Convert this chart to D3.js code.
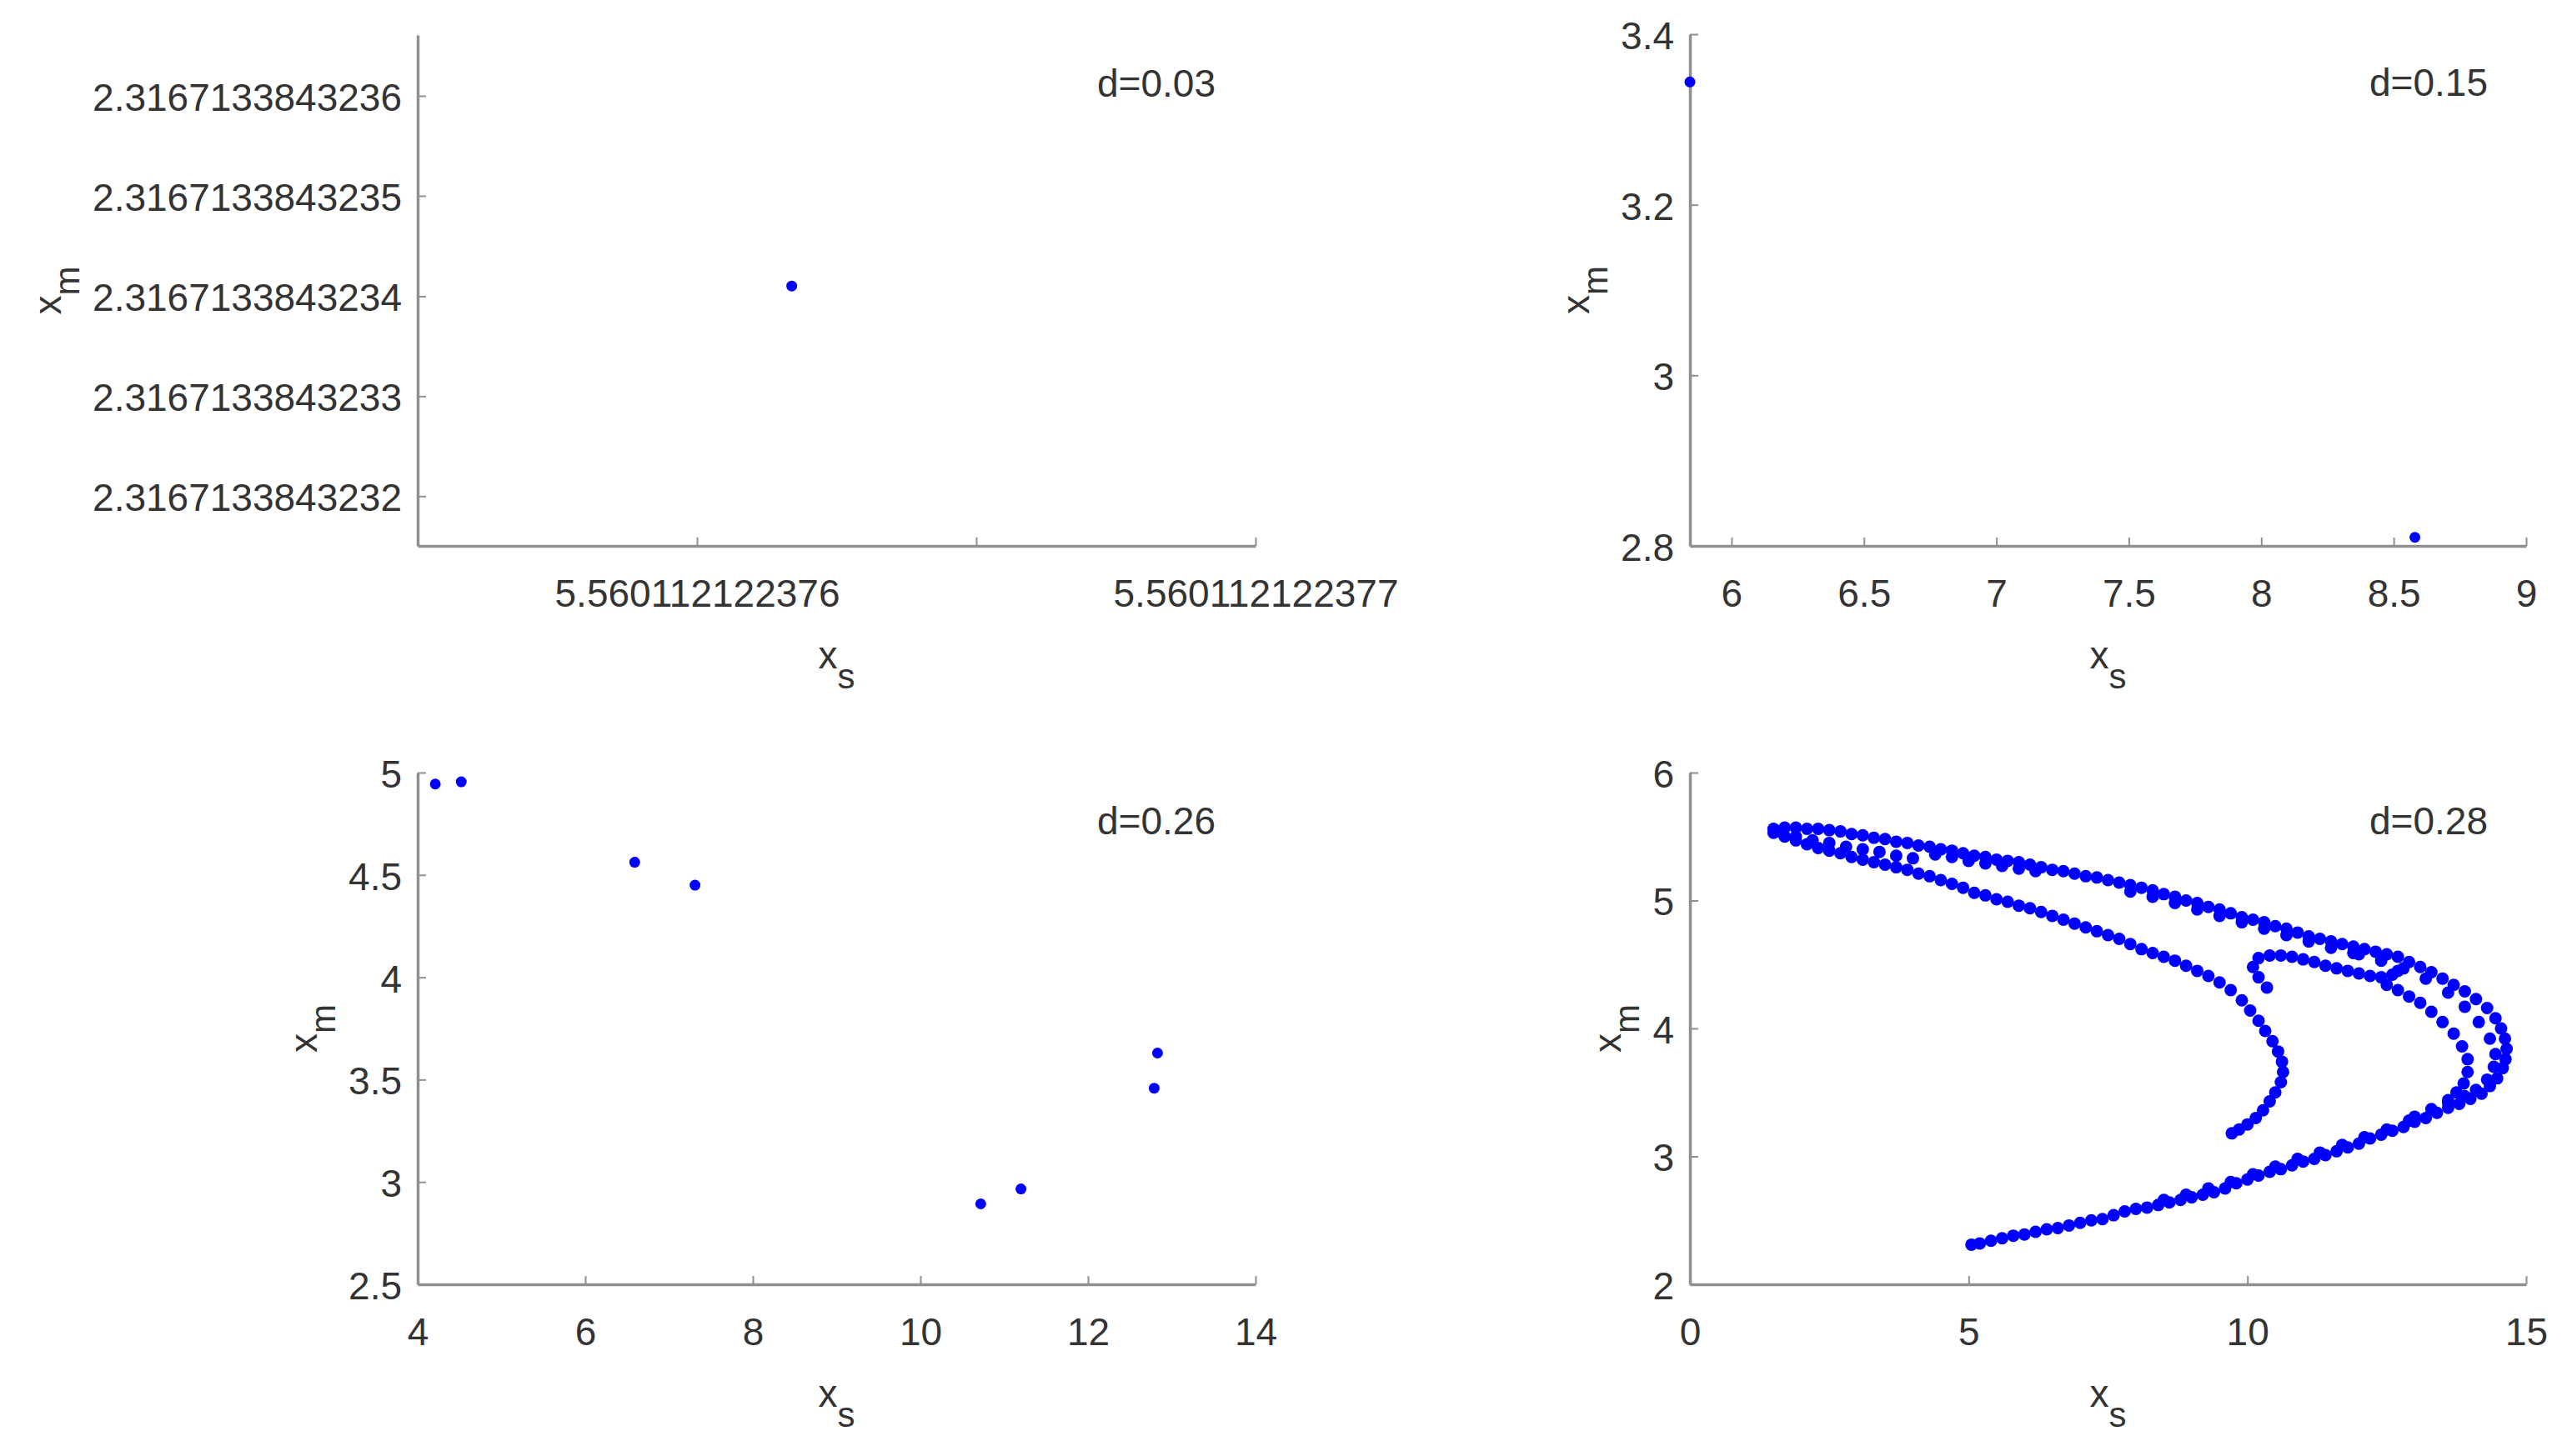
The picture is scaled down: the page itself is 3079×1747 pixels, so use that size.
<!DOCTYPE html>
<html lang="en">
<head>
  <meta charset="UTF-8">
  <title>x_s - x_m scatter, four d values</title>
  <script src="https://cdn.jsdelivr.net/npm/d3@7"></script>
  <style>
    body { margin: 0; background: #fff; }
    text { font-family: "Liberation Sans", Arial, sans-serif; fill: #333; }
  </style>
</head>
<body>
  <div id="box"></div>
  <script>
    // ---- data ----
    // d = 0.03 : one fixed point
    const p1Xs = [5.56011212237617]
    const p1Xm = [2.31671338432341]
    const p1XTicks = [5.560112122376, 5.5601121223765, 5.560112122377]
    const p1XTickLabels = ['5.560112122376', '', '5.560112122377']
    const p1YTicks = [2.3167133843232, 2.3167133843233, 2.3167133843234, 2.3167133843235, 2.3167133843236]
    const p1YTickLabels = ['2.3167133843232', '2.3167133843233', '2.3167133843234', '2.3167133843235', '2.3167133843236']

    // d = 0.15 : period 2
    const p2Xs = [5.843, 8.58]
    const p2Xm = [3.344, 2.81]
    const p2XTicks = [6, 6.5, 7, 7.5, 8, 8.5, 9]
    const p2YTicks = [2.8, 3, 3.2, 3.4]

    // d = 0.26 : period 8
    const p3Xs = [4.21, 4.52, 6.59, 7.31, 10.72, 11.2, 12.79, 12.83]
    const p3Xm = [4.944, 4.955, 4.562, 4.45, 2.893, 2.966, 3.458, 3.63]
    const p3XTicks = [4, 6, 8, 10, 12, 14]
    const p3YTicks = [2.5, 3, 3.5, 4, 4.5, 5]

    // d = 0.28 : chaotic attractor, points read along each strand [xs, xm]
    const p4Outer = [
      [1.5, 5.56], [1.7, 5.57], [1.9, 5.57], [2.1, 5.56], [2.3, 5.56], [2.5, 5.55], [2.7, 5.54], [2.9, 5.52],
      [3.1, 5.51], [3.3, 5.49], [3.5, 5.48], [3.7, 5.46], [3.9, 5.45], [4.1, 5.43], [4.3, 5.42], [4.5, 5.40],
      [4.7, 5.39], [4.9, 5.37], [5.1, 5.35], [5.3, 5.34], [5.5, 5.32], [5.7, 5.31], [5.9, 5.30], [6.1, 5.28],
      [6.3, 5.26], [6.5, 5.24], [6.7, 5.23], [6.9, 5.21], [7.1, 5.19], [7.3, 5.18], [7.5, 5.16], [7.7, 5.14],
      [7.9, 5.12], [8.1, 5.10], [8.3, 5.08], [8.5, 5.05], [8.7, 5.03], [8.9, 5.00], [9.1, 4.98], [9.3, 4.95],
      [9.5, 4.93], [9.7, 4.90], [9.9, 4.87], [10.1, 4.85], [10.3, 4.83], [10.5, 4.80], [10.7, 4.78], [10.9, 4.75],
      [11.1, 4.72], [11.3, 4.70], [11.5, 4.68], [11.7, 4.66], [11.9, 4.64], [12.1, 4.62], [12.3, 4.60], [12.5, 4.58],
      [12.7, 4.56], [12.9, 4.52], [13.1, 4.48], [13.3, 4.44], [13.5, 4.39], [13.7, 4.34], [13.9, 4.29], [14.1, 4.23],
      [14.3, 4.16], [14.45, 4.08], [14.55, 4.00], [14.62, 3.92], [14.65, 3.84], [14.63, 3.76], [14.58, 3.69], [14.48, 3.61],
      [14.35, 3.55], [14.2, 3.49], [14.0, 3.45], [13.8, 3.41], [13.6, 3.38], [13.4, 3.34], [13.2, 3.30], [13.0, 3.27],
      [12.8, 3.23], [12.6, 3.20], [12.4, 3.17], [12.2, 3.14], [12.0, 3.10], [11.8, 3.07], [11.6, 3.04], [11.4, 3.01],
      [11.2, 2.98], [11.0, 2.96], [10.8, 2.93], [10.6, 2.90], [10.4, 2.88], [10.2, 2.85], [10.0, 2.82], [9.8, 2.79],
      [9.6, 2.75], [9.4, 2.72], [9.2, 2.70], [9.0, 2.68], [8.8, 2.66], [8.6, 2.64], [8.4, 2.62], [8.2, 2.60],
      [8.0, 2.59], [7.8, 2.57], [7.6, 2.54], [7.4, 2.51], [7.2, 2.50], [7.0, 2.48], [6.8, 2.46], [6.6, 2.44],
      [6.4, 2.43], [6.2, 2.41], [6.0, 2.39], [5.8, 2.38], [5.6, 2.36], [5.4, 2.34], [5.2, 2.32], [5.05, 2.31]
    ]
    const p4OuterInner = [
      [1.6, 5.54], [1.9, 5.50], [2.2, 5.47], [2.5, 5.45], [2.8, 5.42], [3.1, 5.40], [3.4, 5.38], [3.7, 5.35], [4.0, 5.33],
      [4.4, 5.36], [4.7, 5.34], [5.0, 5.31], [5.3, 5.29], [5.6, 5.27], [5.9, 5.25], [6.2, 5.23],
      [7.9, 5.07], [8.3, 5.03], [8.7, 4.98], [9.1, 4.93], [9.5, 4.88], [9.9, 4.83], [10.3, 4.78], [10.7, 4.73],
      [11.1, 4.68], [11.5, 4.63], [11.9, 4.59], [12.0, 4.58], [12.4, 4.53], [12.8, 4.47], [13.2, 4.39], [13.6, 4.28],
      [13.9, 4.17], [14.15, 4.05], [14.35, 3.92], [14.45, 3.80], [14.42, 3.70], [14.3, 3.60], [14.1, 3.52], [13.9, 3.47],
      [13.6, 3.42], [13.3, 3.37], [13.0, 3.31], [12.9, 3.28], [12.5, 3.21], [12.1, 3.15], [11.7, 3.09], [11.3, 3.03],
      [10.9, 2.98], [10.5, 2.92], [10.1, 2.86], [9.7, 2.80], [9.3, 2.75], [8.9, 2.70], [8.5, 2.66]
    ]
    const p4Inner = [
      [1.5, 5.53], [1.7, 5.50], [1.9, 5.47], [2.1, 5.44], [2.3, 5.41], [2.5, 5.39], [2.7, 5.37], [2.9, 5.34],
      [3.1, 5.32], [3.3, 5.30], [3.5, 5.28], [3.7, 5.26], [3.9, 5.24], [4.1, 5.21], [4.3, 5.19], [4.5, 5.16],
      [4.7, 5.13], [4.9, 5.10], [5.1, 5.06], [5.3, 5.04], [5.5, 5.01], [5.7, 4.99], [5.9, 4.96], [6.1, 4.94],
      [6.3, 4.91], [6.5, 4.88], [6.7, 4.85], [6.9, 4.82], [7.1, 4.79], [7.3, 4.76], [7.5, 4.73], [7.7, 4.70],
      [7.9, 4.66], [8.1, 4.62], [8.3, 4.59], [8.5, 4.56], [8.7, 4.53], [8.9, 4.49], [9.1, 4.45], [9.3, 4.41],
      [9.5, 4.36], [9.7, 4.30], [9.9, 4.22], [10.05, 4.14], [10.2, 4.06], [10.32, 3.98], [10.45, 3.90], [10.55, 3.82],
      [10.62, 3.74], [10.64, 3.66], [10.6, 3.58], [10.5, 3.50], [10.4, 3.43], [10.28, 3.36], [10.15, 3.30], [10.0, 3.25],
      [9.85, 3.21], [9.72, 3.18]
    ]
    const p4Hook = [
      [10.35, 4.32], [10.2, 4.40], [10.1, 4.48], [10.2, 4.55], [10.4, 4.57], [10.6, 4.57], [10.8, 4.56], [11.0, 4.54],
      [11.2, 4.52], [11.4, 4.49], [11.6, 4.47], [11.8, 4.45], [12.0, 4.43], [12.2, 4.41], [12.4, 4.40], [12.6, 4.42],
      [12.7, 4.45], [12.5, 4.34], [12.7, 4.30], [12.9, 4.25], [13.1, 4.20], [13.3, 4.13], [13.5, 4.05], [13.7, 3.96],
      [13.85, 3.86], [13.95, 3.76], [13.95, 3.66], [13.88, 3.57], [13.75, 3.50], [13.6, 3.44]
    ]
    const p4XTicks = [0, 5, 10, 15]
    const p4YTicks = [2, 3, 4, 5, 6]

    // ---- layout ----
    const W = 3079, H = 1747
    const fontSize = 46
    const axisColor = '#8f8f8f'
    const dotColor = '#0000ff'

    const svg = d3.select('#box').append('svg')
      .attr('width', W)
      .attr('height', H)
      .style('background', '#fff')

    const panels = [
      {
        left: 501, top: 42, right: 1506, bottom: 655,
        xDomain: [5.5601121223755, 5.560112122377], yDomain: [2.31671338432315, 2.3167133843236608],
        xTicks: p1XTicks, xFmt: (d, i) => p1XTickLabels[i],
        yTicks: p1YTicks, yFmt: (d, i) => p1YTickLabels[i],
        pts: p1Xs.map((v, i) => [v, p1Xm[i]]), r: 6.5, label: 'd=0.03'
      },
      {
        left: 2027, top: 41, right: 3030, bottom: 655,
        xDomain: [5.843, 9], yDomain: [2.8, 3.4],
        xTicks: p2XTicks, xFmt: d3.format('~g'),
        yTicks: p2YTicks, yFmt: d3.format('~g'),
        pts: p2Xs.map((v, i) => [v, p2Xm[i]]), r: 6.5, label: 'd=0.15'
      },
      {
        left: 501, top: 927, right: 1506, bottom: 1541,
        xDomain: [4, 14], yDomain: [2.5, 5],
        xTicks: p3XTicks, xFmt: d3.format('~g'),
        yTicks: p3YTicks, yFmt: d3.format('~g'),
        pts: p3Xs.map((v, i) => [v, p3Xm[i]]), r: 6.5, label: 'd=0.26'
      },
      {
        left: 2027, top: 927, right: 3030, bottom: 1541,
        xDomain: [0, 15], yDomain: [2, 6],
        xTicks: p4XTicks, xFmt: d3.format('~g'),
        yTicks: p4YTicks, yFmt: d3.format('~g'),
        pts: [...p4Outer, ...p4OuterInner, ...p4Inner, ...p4Hook], r: 7.5, label: 'd=0.28'
      }
    ]

    panels.forEach(p => {
      const x = d3.scaleLinear().domain(p.xDomain).range([p.left, p.right])
      const y = d3.scaleLinear().domain(p.yDomain).range([p.bottom, p.top])

      // x axis, ticks pointing inward
      const gx = svg.append('g')
        .attr('transform', `translate(0,${p.bottom})`)
        .call(d3.axisBottom(x).tickValues(p.xTicks).tickFormat(p.xFmt)
          .tickSizeInner(-10).tickSizeOuter(0).tickPadding(40))
      // y axis
      const gy = svg.append('g')
        .attr('transform', `translate(${p.left},0)`)
        .call(d3.axisLeft(y).tickValues(p.yTicks).tickFormat(p.yFmt)
          .tickSizeInner(-10).tickSizeOuter(0).tickPadding(19))

      ;[gx, gy].forEach(g => {
        g.attr('font-size', fontSize).attr('font-family', null)
        g.select('.domain').attr('stroke', axisColor).attr('stroke-width', 3.5)
        g.selectAll('.tick line').attr('stroke', axisColor).attr('stroke-width', 2)
        g.selectAll('.tick text').attr('fill', '#333')
      })
      gy.selectAll('.tick text').attr('dy', '0.38em')

      // dots
      svg.append('g').selectAll('circle')
        .data(p.pts)
        .join('circle')
        .attr('cx', d => x(d[0]))
        .attr('cy', d => y(d[1]))
        .attr('r', p.r)
        .attr('fill', dotColor)

      // d= annotation
      svg.append('text')
        .attr('x', p.left + 815)
        .attr('y', p.top + 74)
        .attr('font-size', fontSize)
        .text(p.label)

      // x label: x_s
      const xl = svg.append('text')
        .attr('x', (p.left + p.right) / 2)
        .attr('y', p.bottom + 147)
        .attr('font-size', fontSize)
        .attr('text-anchor', 'middle')
      xl.append('tspan').text('x')
      xl.append('tspan').attr('dy', 24).attr('font-size', 42).text('s')

      // y label: x_m, placed left of the tick labels
      const bb = gy.node().getBBox()
      const bx = p.left + bb.x - 38
      const cy = (p.top + p.bottom) / 2
      const yl = svg.append('text')
        .attr('transform', `translate(${bx},${cy}) rotate(-90)`)
        .attr('font-size', fontSize)
        .attr('text-anchor', 'middle')
      yl.append('tspan').text('x')
      yl.append('tspan').attr('dy', 22).attr('font-size', 42).text('m')
    })
  </script>
</body>
</html>
